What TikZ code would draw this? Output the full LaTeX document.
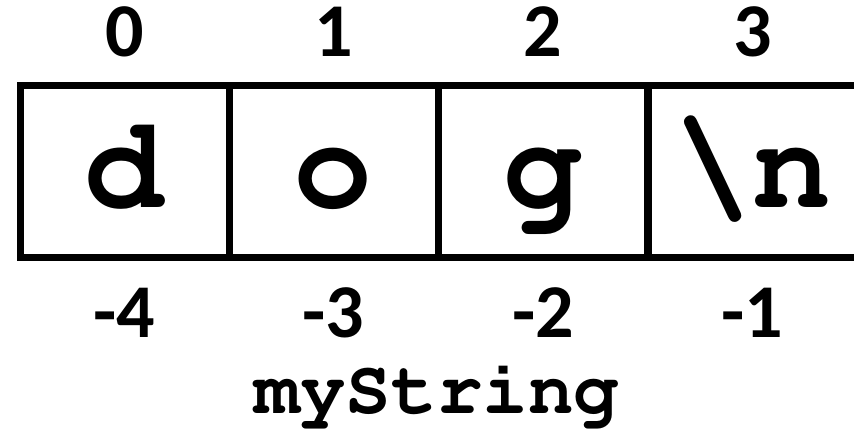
\documentclass[tikz,border=0pt]{standalone}
\usepackage[T1]{fontenc}
\usepackage{fontspec}
\newfontfamily\idxfont{Carlito}
\newcommand\chfont{\fontencoding{T1}\fontfamily{pcr}\fontseries{b}\selectfont}

\tikzset{
  cell/.style={draw, line width=7pt, minimum width=209pt, minimum height=172pt, inner sep=0pt},
  idx/.style={anchor=base, font=\idxfont\bfseries\fontsize{76}{76}\selectfont},
  ch/.style={anchor=base, font=\chfont\fontsize{132}{132}\selectfont},
  varname/.style={anchor=base, font=\chfont\fontsize{76}{76}\selectfont}
}

\begin{document}
\begin{tikzpicture}[x=1pt,y=-1pt]
  \useasboundingbox (0,0) rectangle (854,434);
  % Cells of the string
  \node[cell] (c0) at (124.5,171) {};
  \node[cell] (c1) at (333.5,171) {};
  \node[cell] (c2) at (543,171) {};
  \node[cell] (c3) at (752.5,171) {};

  % Characters
  \node[ch] (d) at (124.5,207) {d};
  \node[ch] (o) at (333.5,207) {o};
  \node[ch] (g) at (543,207) {g};
  \node[ch] (nl) at (752.5,207) {\symbol{92}n};

  % Positive indices
  \node[idx] (p0) at (124.5,56) {0};
  \node[idx] (p1) at (333.5,56) {1};
  \node[idx] (p2) at (543,56) {2};
  \node[idx] (p3) at (752.5,56) {3};

  % Negative indices
  \node[idx] (m4) at (124.5,337) {-4};
  \node[idx] (m3) at (333.5,337) {-3};
  \node[idx] (m2) at (543,337) {-2};
  \node[idx] (m1) at (752.5,337) {-1};

  % Variable name
  \node[varname] (name) at (437,413) {myString};
\end{tikzpicture}
\end{document}
